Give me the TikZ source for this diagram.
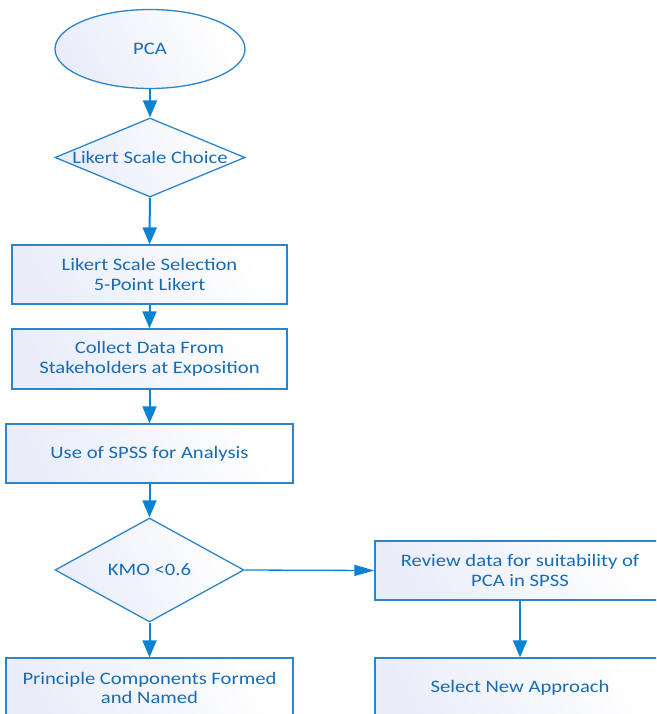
\documentclass[tikz,border=0pt]{standalone}
\usepackage{fontspec}
\setmainfont[FakeStretch=1.18]{Carlito}
\usetikzlibrary{shapes.geometric,arrows.meta}
\definecolor{edgeblue}{RGB}{43,133,200}
\definecolor{arrowblue}{RGB}{10,132,210}
\definecolor{textblue}{RGB}{24,108,180}
\definecolor{lav}{RGB}{234,237,249}
\tikzset{
  shapebase/.style={draw=edgeblue, line width=1.3pt, left color=lav, right color=white, shading angle=120,
    text=textblue, font=\fontsize{17.5}{19.5}\selectfont, align=center, inner sep=0pt},
  stepbox/.style={shapebase, rectangle},
  startnode/.style={shapebase, ellipse},
  decision/.style={shapebase, diamond},
  dlabel/.style={text=textblue, font=\fontsize{17.5}{19.5}\selectfont},
  flow/.style={draw=arrowblue, line width=2pt, -{Triangle[length=17pt,width=14pt]}},
  flowthin/.style={draw=arrowblue, line width=1.3pt, -{Triangle[length=20pt,width=11pt]}}
}
\begin{document}
\begin{tikzpicture}[x=1pt,y=-1pt]
\useasboundingbox (0,0) rectangle (656,714);
\clip (0,0) rectangle (656,714);
\node[startnode, minimum width=190pt, minimum height=79pt] (pca) at (150,49) {PCA};
\node[decision, minimum width=190pt, minimum height=79pt, label={[dlabel]center:Likert Scale Choice}] (d1) at (150,157.5) {};
\node[stepbox, minimum width=275pt, minimum height=59pt] (b1) at (149.5,274.5) {Likert Scale Selection\\5-Point Likert};
\node[stepbox, minimum width=275pt, minimum height=60pt] (b2) at (149.5,359) {Collect Data From\\Stakeholders at Exposition};
\node[stepbox, minimum width=287pt, minimum height=59pt] (b3) at (149.5,453.5) {Use of SPSS for Analysis};
\node[decision, minimum width=189pt, minimum height=104pt, label={[dlabel]center:KMO <0.6}] (d2) at (149.5,570) {};
\node[stepbox, minimum width=287pt, minimum height=60pt] (b4) at (149.5,688) {Principle Components Formed\\and Named};
\node[stepbox, minimum width=290pt, minimum height=59pt] (r1) at (520,570.5) {Review data for suitability of\\PCA in SPSS};
\node[stepbox, minimum width=290pt, minimum height=60pt] (r2) at (520,688) {Select New Approach};
\draw[flow] (pca) -- (d1);
\draw[flow] (d1) -- (b1);
\draw[flow] (b1) -- (b2);
\draw[flow] (b2) -- (b3);
\draw[flow] (b3) -- (d2);
\draw[flow] (d2) -- (b4);
\draw[flowthin] (d2.east) -- (r1.west);
\draw[flow] (r1.south -| r2.north) -- (r2.north);
\end{tikzpicture}
\end{document}
